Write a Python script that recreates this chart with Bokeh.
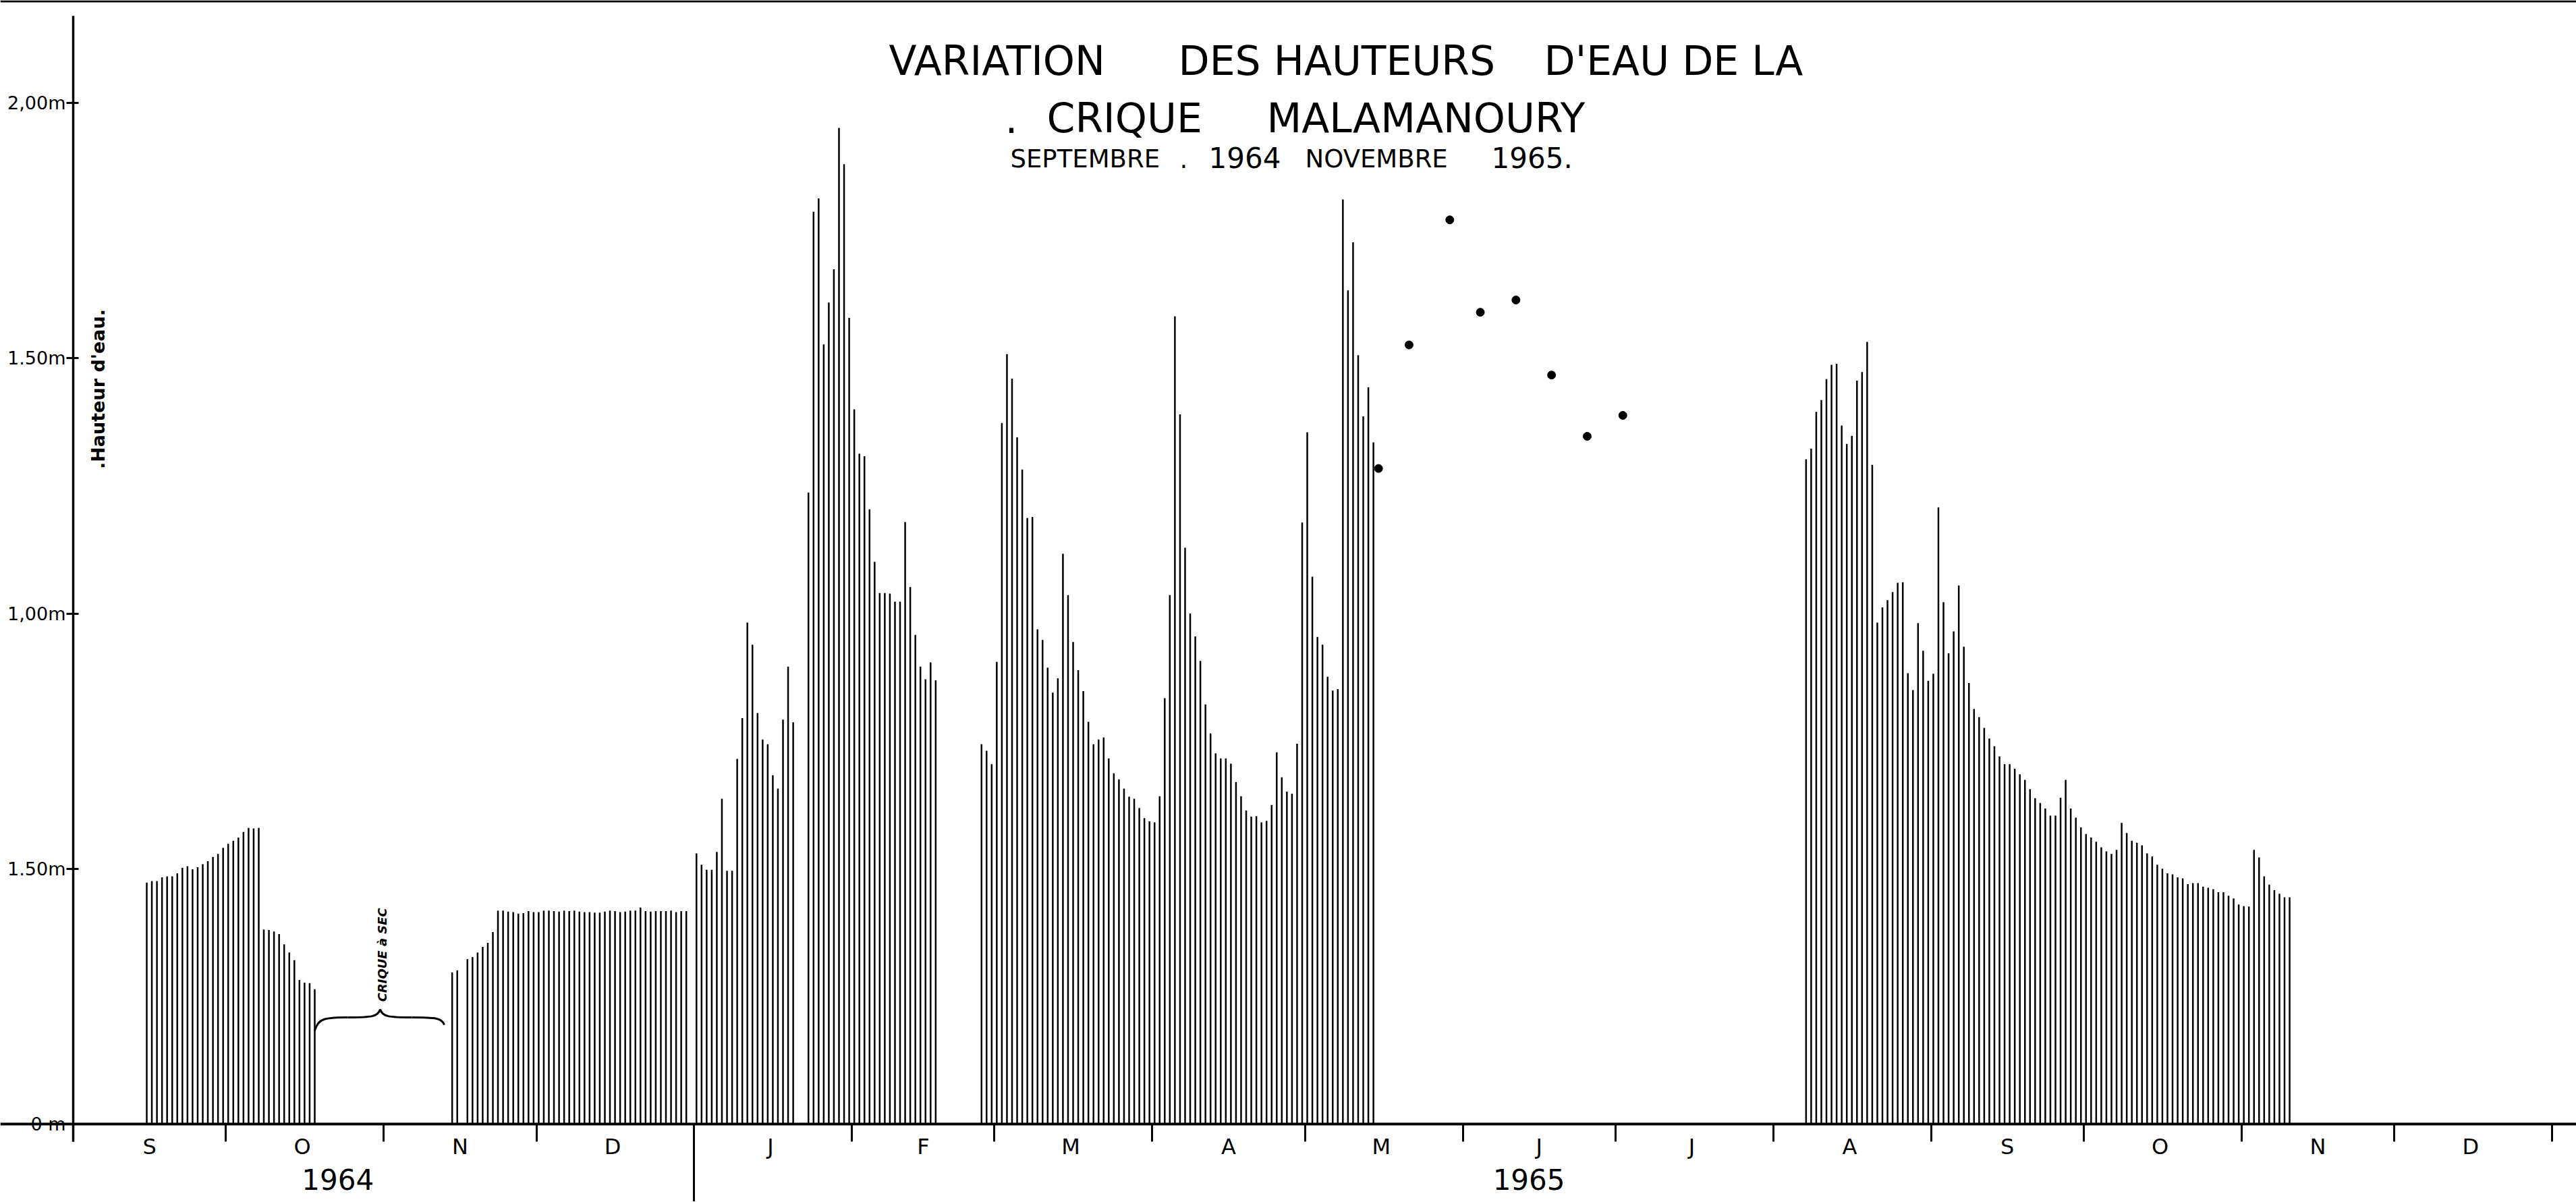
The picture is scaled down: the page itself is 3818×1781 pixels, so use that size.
from datetime import date
from math import pi

from bokeh.plotting import figure
from bokeh.models import Range1d, FixedTicker, LinearAxis, ColumnDataSource
from bokeh.core.properties import value
from bokeh.embed import file_html
from bokeh.resources import INLINE

# ---------------------------------------------------------------- data
ORIGIN = date(1964, 9, 1)

# daily water heights (m); None = no reading
SEP_OCT_1964_START = date(1964, 9, 15)
SEP_OCT_1964 = [0.473, 0.476, 0.476, 0.483, 0.485, 0.485, 0.491, 0.502, 0.505, 0.499,
                0.503, 0.509, 0.515, 0.523, 0.529, 0.541, 0.549, 0.555, 0.561, 0.572,
                0.580, 0.579, 0.580,
                0.381, 0.380, 0.377, 0.372, 0.352, 0.336, 0.321, 0.282, 0.277, 0.276,
                0.264]

NOV_DEC_1964_START = date(1964, 11, 14)
NOV_DEC_1964 = [0.297, 0.301, None, 0.323, 0.327, 0.336, 0.347, 0.355, 0.376, 0.418,
                0.418, 0.416, 0.415, 0.412, 0.413, 0.417, 0.415, 0.415, 0.418, 0.418,
                0.417, 0.416, 0.418, 0.417, 0.418, 0.416, 0.415, 0.415, 0.414, 0.414,
                0.416, 0.418, 0.417, 0.415, 0.416, 0.418, 0.418, 0.424, 0.417, 0.416,
                0.417, 0.417, 0.417, 0.418, 0.415, 0.417, 0.417]

JAN_FEB_1965_START = date(1965, 1, 1)
JAN_FEB_1965 = [0.530, 0.508, 0.498, 0.498, 0.533, 0.637, 0.496, 0.496, 0.715, 0.795,
                0.982, 0.939, 0.805, 0.753, 0.744, 0.683, 0.657, 0.792, 0.896, 0.787,
                None, None,
                1.237, 1.787, 1.813, 1.527, 1.609, 1.674, 1.951, 1.880, 1.579, 1.400,
                1.313, 1.308, 1.204, 1.101, 1.040, 1.040, 1.039, 1.023, 1.023, 1.179,
                1.052, 0.958, 0.896, 0.871, 0.904, 0.869]

MAR_MAY_1965_START = date(1965, 2, 26)
MAR_MAY_1965 = [0.744, 0.731, 0.705,
                0.905, 1.373, 1.508, 1.460, 1.345, 1.282, 1.187, 1.189, 0.969, 0.948,
                0.894, 0.845, 0.873, 1.117, 1.036, 0.944, 0.889, 0.848, 0.788, 0.744,
                0.753, 0.757, 0.716, 0.687, 0.675, 0.657, 0.641, 0.637, 0.619, 0.599,
                0.593,
                0.591, 0.642, 0.834, 1.036, 1.582, 1.390, 1.129, 1.000, 0.955, 0.907,
                0.822, 0.765, 0.726, 0.716, 0.716, 0.706, 0.670, 0.642, 0.614, 0.602,
                0.603, 0.591, 0.594, 0.625, 0.728, 0.679, 0.651, 0.647, 0.745, 1.178,
                1.355, 1.072, 0.954, 0.939, 0.876, 0.849, 0.852, 1.811, 1.633, 1.727,
                1.506, 1.386, 1.443, 1.335]

AUG_NOV_1965_START = date(1965, 8, 7)
AUG_NOV_1965 = [1.302, 1.323, 1.395, 1.418, 1.459, 1.487, 1.489, 1.368, 1.332, 1.348,
                1.456, 1.473, 1.532, 1.291, 0.982, 1.012, 1.026, 1.042, 1.060, 1.061,
                0.883, 0.850, 0.981, 0.927, 0.868,
                0.882, 1.208, 1.022, 0.922, 0.965, 1.055, 0.935, 0.864, 0.813, 0.797,
                0.776, 0.755, 0.740, 0.720, 0.705, 0.705, 0.696, 0.685, 0.674, 0.656,
                0.638, 0.629, 0.618, 0.604, 0.604, 0.639, 0.674, 0.618, 0.600, 0.581,
                0.568, 0.561, 0.553, 0.542, 0.534, 0.529, 0.537, 0.590, 0.570, 0.555,
                0.551, 0.546, 0.530, 0.524, 0.508, 0.500, 0.491, 0.489, 0.483, 0.481,
                0.470, 0.472, 0.472, 0.465, 0.463, 0.460, 0.454, 0.454, 0.447, 0.442,
                0.430,
                0.427, 0.426, 0.537, 0.522, 0.485, 0.469, 0.458, 0.451, 0.444, 0.444]

# isolated (weekly) readings, May - July 1965
DOT_DATES = [date(1965, 5, 15), date(1965, 5, 21), date(1965, 5, 29), date(1965, 6, 4),
             date(1965, 6, 11), date(1965, 6, 18), date(1965, 6, 25), date(1965, 7, 2)]
DOT_VALUES = [1.284, 1.526, 1.771, 1.590, 1.614, 1.467, 1.347, 1.388]

MONTH_LABELS = ["S", "O", "N", "D", "J", "F", "M", "A", "M", "J", "J", "A", "S", "O", "N", "D"]
YEAR_LABELS = ["1964", "1965"]
YEAR_LABEL_DATES = [date(1964, 10, 23), date(1965, 6, 14)]
YEAR_DIVIDER = date(1965, 1, 1)

Y_TICKS = [0.0, 0.5, 1.0, 1.5, 2.0]
Y_TICK_LABELS = ["0 m", "1.50m", "1,00m", "1.50m", "2,00m"]

# ---------------------------------------------------------------- layout
W, H = 3818, 1780
AXIS_X = 108              # page px of the y axis (= 1 Sept 1964)
PX_PER_DAY = 7.544
ZERO_Y = 1665             # page px of 0 m
PX_PER_M = 756.5


def dx(px):
    return (px - AXIS_X) / PX_PER_DAY


def dy(py):
    return (ZERO_Y - py) / PX_PER_M


def day(d):
    return (d - ORIGIN).days


FONT = value("DejaVu Sans")

p = figure(width=W, height=H, output_backend="svg", toolbar_location=None,
           x_range=Range1d(dx(0), dx(W)),
           y_range=Range1d(dy(H), dy(0)),
           x_axis_type=None, y_axis_type=None,
           min_border=0, min_border_left=0, min_border_right=0,
           min_border_top=0, min_border_bottom=0)
p.outline_line_color = None
p.background_fill_color = "white"
p.border_fill_color = "white"

# page border line at the top of the sheet
p.segment(x0=[dx(0)], y0=[dy(1.5)], x1=[dx(W)], y1=[dy(1.5)], line_width=3, line_color="black")

# ---------------------------------------------------------------- bars
xs, hs = [], []
for start, vals in [(SEP_OCT_1964_START, SEP_OCT_1964),
                    (NOV_DEC_1964_START, NOV_DEC_1964),
                    (JAN_FEB_1965_START, JAN_FEB_1965),
                    (MAR_MAY_1965_START, MAR_MAY_1965),
                    (AUG_NOV_1965_START, AUG_NOV_1965)]:
    for i, v in enumerate(vals):
        if v is None:
            continue
        xs.append(day(start) + i + 0.45)
        hs.append(v)

bars = ColumnDataSource(dict(x=xs, h=hs))
p.segment(x0="x", y0=0, x1="x", y1="h", source=bars, line_width=2.5, line_color="black")

dots = ColumnDataSource(dict(x=[day(d) + 0.45 for d in DOT_DATES], h=DOT_VALUES))
p.scatter(x="x", y="h", source=dots, size=12, color="black")

# ---------------------------------------------------------------- axes
yaxis = LinearAxis(fixed_location=0,
                   ticker=FixedTicker(ticks=Y_TICKS),
                   bounds=(dy(1691), dy(23)),
                   major_label_overrides=dict(zip(Y_TICKS, Y_TICK_LABELS)),
                   major_tick_out=10, major_tick_in=8, major_tick_line_width=3,
                   major_tick_line_color="black",
                   minor_tick_line_color=None,
                   axis_line_width=3.5, axis_line_color="black",
                   major_label_standoff=1,
                   major_label_text_font="DejaVu Sans",
                   major_label_text_font_size="27px",
                   major_label_text_color="black")
p.add_layout(yaxis, "left")

month_starts = []
y_, m_ = 1964, 9
while (y_, m_) <= (1966, 1):
    month_starts.append(day(date(y_, m_, 1)))
    m_ += 1
    if m_ > 12:
        m_, y_ = 1, y_ + 1
month_mids = [(a + b) // 2 for a, b in zip(month_starts[:-1], month_starts[1:])]

month_axis = LinearAxis(fixed_location=0,
                        ticker=FixedTicker(ticks=month_mids, minor_ticks=month_starts),
                        major_label_overrides=dict(zip(month_mids, MONTH_LABELS)),
                        major_tick_out=0, major_tick_in=0, major_tick_line_color=None,
                        minor_tick_out=26, minor_tick_in=0, minor_tick_line_width=3,
                        minor_tick_line_color="black",
                        axis_line_width=4, axis_line_color="black",
                        major_label_standoff=-12,
                        major_label_text_font="DejaVu Sans",
                        major_label_text_font_size="32px",
                        major_label_text_color="black")
p.add_layout(month_axis, "below")

# long divider between the two years
year_axis = LinearAxis(fixed_location=0,
                       ticker=FixedTicker(ticks=[], minor_ticks=[day(YEAR_DIVIDER)]),
                       major_tick_out=0, major_tick_in=0, major_tick_line_color=None,
                       minor_tick_out=130, minor_tick_in=0, minor_tick_line_width=3,
                       minor_tick_line_color="black",
                       axis_line_color=None,
                       major_label_text_font_size="0px")
p.add_layout(year_axis, "below")

p.text(x=[day(d) for d in YEAR_LABEL_DATES], y=[dy(1747)] * 2, text=YEAR_LABELS,
       text_font=FONT, text_font_size=value("42px"),
       text_align="center", text_baseline="alphabetic", text_color="black")

# ---------------------------------------------------------------- title
big = ColumnDataSource(dict(
    x=[dx(1317), dx(1746), dx(2288), dx(1489), dx(1551), dx(1877)],
    y=[dy(89), dy(89), dy(89), dy(174), dy(174), dy(174)],
    t=["VARIATION", "DES HAUTEURS", "D'EAU DE LA", ".", "CRIQUE", "MALAMANOURY"]))
p.text(x="x", y="y", text="t", source=big, text_font=FONT, text_font_size=value("60px"),
       text_align="left", text_baseline="alphabetic", text_color="black")

small = ColumnDataSource(dict(
    x=[dx(1497), dx(1748), dx(1934)],
    y=[dy(235), dy(235), dy(235)],
    t=["SEPTEMBRE", ".", "NOVEMBRE"]))
p.text(x="x", y="y", text="t", source=small, text_font=FONT, text_font_size=value("37px"),
       text_align="left", text_baseline="alphabetic", text_color="black")

years = ColumnDataSource(dict(
    x=[dx(1791), dx(2210)],
    y=[dy(233), dy(233)],
    t=["1964", "1965."]))
p.text(x="x", y="y", text="t", source=years, text_font=FONT, text_font_size=value("42px"),
       text_align="left", text_baseline="alphabetic", text_color="black")

# vertical axis caption
p.text(x=[dx(145)], y=[dy(576)], text=[".Hauteur d'eau."], angle=pi / 2,
       text_font=FONT, text_font_size=value("27px"), text_font_style="bold",
       text_align="center", text_baseline="middle", text_color="black")

# dry-creek annotation with curly brace
p.text(x=[dx(566)], y=[dy(1408)], text=["CRIQUE  à  SEC"], angle=pi / 2,
       text_font=FONT, text_font_size=value("18px"), text_font_style="bold italic",
       text_align="center", text_baseline="middle", text_color="black")

brace = ColumnDataSource(dict(
    x0=[dx(466), dx(515), dx(563), dx(610)],
    y0=[dy(1527), dy(1507), dy(1495), dy(1507)],
    x1=[dx(515), dx(563), dx(610), dx(658)],
    y1=[dy(1507), dy(1495), dy(1507), dy(1518)],
    cx0=[dx(470), dx(550), dx(566), dx(645)],
    cy0=[dy(1509), dy(1507), dy(1506), dy(1507)],
    cx1=[dx(480), dx(560), dx(576), dx(655)],
    cy1=[dy(1507), dy(1506), dy(1507), dy(1508)]))
p.bezier(x0="x0", y0="y0", x1="x1", y1="y1", cx0="cx0", cy0="cy0", cx1="cx1", cy1="cy1",
         source=brace, line_width=3, line_color="black")

open("out.html", "w").write(file_html(p, INLINE))
